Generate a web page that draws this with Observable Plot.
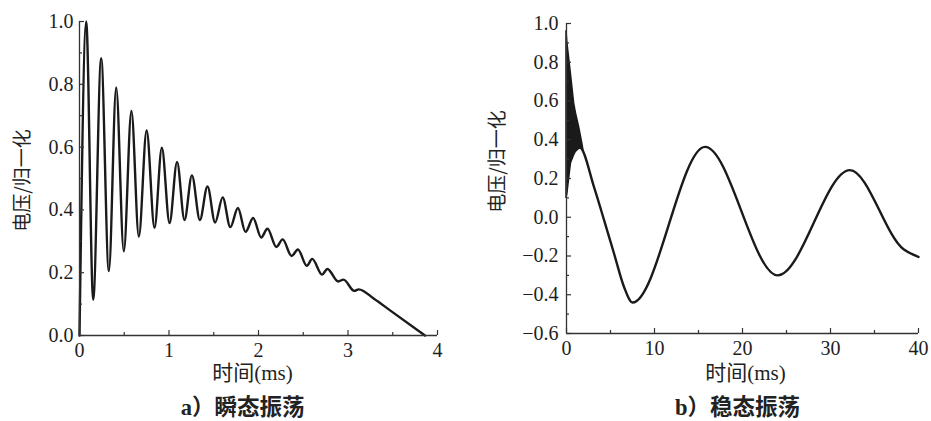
<!DOCTYPE html>
<html>
<head>
<meta charset="utf-8">
<script src="https://cdn.jsdelivr.net/npm/d3@7"></script>
<script src="https://cdn.jsdelivr.net/npm/@observablehq/plot@0.6"></script>
<style>
  body { margin: 0; background: #fff; }
  #wrap { position: relative; width: 931px; height: 421px; overflow: hidden; background: #fff; }
  #panelA, #panelB { position: absolute; top: 0; }
  #panelA { left: 0; }
  #panelB { left: 466px; }
</style>
</head>
<body>
<div id="wrap"><div id="panelA"></div><div id="panelB"></div></div>
<script>
// ---------- Panel a) transient oscillation (peaks & troughs read from the picture)
const leftTime = [0, 0.075, 0.153, 0.242, 0.328, 0.41, 0.495, 0.58, 0.663, 0.75,
  0.838, 0.92, 1.006, 1.09, 1.173, 1.256, 1.345, 1.43, 1.515, 1.6,
  1.685, 1.77, 1.855, 1.94, 2.03, 2.10, 2.20, 2.27, 2.37, 2.44,
  2.54, 2.60, 2.71, 2.77, 2.89, 2.95, 3.07, 3.12, 3.29, 3.47, 3.86];
const leftVoltage = [0, 1.0, 0.114, 0.883, 0.205, 0.79, 0.268, 0.715, 0.315, 0.653,
  0.343, 0.598, 0.358, 0.553, 0.368, 0.51, 0.368, 0.475, 0.36, 0.44,
  0.345, 0.406, 0.33, 0.374, 0.312, 0.34, 0.282, 0.306, 0.253, 0.274,
  0.222, 0.244, 0.194, 0.212, 0.172, 0.178, 0.142, 0.147, 0.117, 0.08, 0];
const leftXMajor = [0, 1, 2, 3, 4];
const leftXMinor = [0.5, 1.5, 2.5, 3.5];
const leftYMajor = [0, 0.2, 0.4, 0.6, 0.8, 1.0];
const leftYMinor = [0.1, 0.3, 0.5, 0.7, 0.9];

// ---------- Panel b) steady oscillation
// dense high-frequency band at the start (upper / lower envelope)
const bandTime  = [0, 0.1, 0.5, 0.87, 1.06, 1.43, 1.8, 1.95];
const bandUpper = [0.96, 0.90, 0.74, 0.587, 0.54, 0.466, 0.38, 0.34];
const bandLower = [0.10, 0.12, 0.277, 0.32, 0.337, 0.355, 0.36, 0.34];
// low-frequency oscillation
const rightTime    = [1.0, 1.5, 3.13, 4.27, 5.4, 6.54, 7.5, 15.75, 24.0, 32.2, 38.3, 40];
const rightVoltage = [0.345, 0.36, 0.156, -0.015, -0.187, -0.36, -0.44, 0.363, -0.30, 0.243, -0.165, -0.205];
const rightXMajor = [0, 10, 20, 30, 40];
const rightXMinor = [5, 15, 25, 35];
const rightYMajor = [-0.6, -0.4, -0.2, 0, 0.2, 0.4, 0.6, 0.8, 1.0];
const rightYMinor = [-0.5, -0.3, -0.1, 0.1, 0.3, 0.5, 0.7, 0.9];

const yLabel = "电压/归一化";
const xLabel = "时间(ms)";
const captionA = "a）瞬态振荡";
const captionB = "b）稳态振荡";

const SERIF = '"Liberation Serif", "Times New Roman", serif, "Noto Sans CJK SC"';
const CJK = '"Noto Sans CJK SC", sans-serif';
const INK = "#1a1a1a";

function panel(cfg) {
  const W = cfg.width - cfg.ml - cfg.mr;
  const H = cfg.height - cfg.mt - cfg.mb;
  const fmt = d3.format(".1f");
  return Plot.plot({
    width: cfg.width,
    height: cfg.height,
    marginLeft: cfg.ml, marginRight: cfg.mr, marginTop: cfg.mt, marginBottom: cfg.mb,
    style: { fontFamily: SERIF, fontSize: "20px", color: "#1e1e1e", background: "#fff", overflow: "visible" },
    x: { domain: cfg.xDomain, nice: false },
    y: { domain: cfg.yDomain, nice: false },
    marks: [
      ...(cfg.extra || []),
      Plot.line(cfg.data, { x: "t", y: "v", curve: "monotone-x", stroke: INK, strokeWidth: 2.4 }),
      // axis lines
      Plot.ruleX([cfg.xDomain[0]], { stroke: "#333", strokeWidth: 1.3 }),
      Plot.ruleY([cfg.yDomain[0]], { stroke: "#333", strokeWidth: 1.3 }),
      // inward ticks
      Plot.tickX(cfg.xMajor, { x: d => d, insetTop: H - 5, stroke: "#333", strokeWidth: 1.2 }),
      Plot.tickX(cfg.xMinor, { x: d => d, insetTop: H - 3, stroke: "#333", strokeWidth: 1.2 }),
      Plot.tickY(cfg.yMajor, { y: d => d, insetRight: W - 5, stroke: "#333", strokeWidth: 1.2 }),
      Plot.tickY(cfg.yMinor, { y: d => d, insetRight: W - 3, stroke: "#333", strokeWidth: 1.2 }),
      Plot.axisX(cfg.xMajor, { tickSize: 0, tickPadding: 7, label: null, fontSize: 20, fontFamily: SERIF }),
      Plot.axisY(cfg.yMajor, { tickSize: 0, tickPadding: cfg.yPad, tickFormat: fmt, label: null, fontSize: 20, fontFamily: SERIF }),
      Plot.text([yLabel], { text: d => d, frameAnchor: "left", rotate: -90, dx: cfg.yLabelDx, dy: cfg.yLabelDy,
        textAnchor: "middle", lineAnchor: "middle", fontFamily: CJK, fontSize: 19, fill: "#222" }),
      Plot.text([xLabel], { text: d => d, frameAnchor: "bottom", dx: cfg.xLabelDx, dy: cfg.xLabelDy,
        textAnchor: "middle", lineAnchor: "middle", fontFamily: SERIF, fontSize: 21, fill: "#222" }),
      Plot.text([cfg.caption], { text: d => d, frameAnchor: "bottom", dx: cfg.capDx, dy: cfg.capDy,
        textAnchor: "middle", lineAnchor: "middle", fontFamily: SERIF, fontSize: 22.5, fontWeight: "bold", fill: "#222" })
    ]
  });
}

const leftData = leftTime.map((t, i) => ({ t, v: leftVoltage[i] }));
const rightData = rightTime.map((t, i) => ({ t, v: rightVoltage[i] }));
const bandData = bandTime.map((t, i) => ({ t, hi: bandUpper[i], lo: bandLower[i] }));

document.getElementById("panelA").append(panel({
  width: 466, height: 421, ml: 79, mr: 29, mt: 21, mb: 86,
  xDomain: [0, 4], yDomain: [0, 1],
  xMajor: leftXMajor, xMinor: leftXMinor, yMajor: leftYMajor, yMinor: leftYMinor,
  yPad: 6, data: leftData,
  yLabelDx: -57, yLabelDy: 2,
  xLabelDx: -6, xLabelDy: 38,
  caption: captionA, capDx: -16, capDy: 72
}));

document.getElementById("panelB").append(panel({
  width: 465, height: 421, ml: 100, mr: 13, mt: 23, mb: 88,
  xDomain: [0, 40], yDomain: [-0.6, 1.0],
  xMajor: rightXMajor, xMinor: rightXMinor, yMajor: rightYMajor, yMinor: rightYMinor,
  yPad: 8, data: rightData,
  extra: [
    Plot.areaY(bandData, { x: "t", y1: "lo", y2: "hi", fill: INK, stroke: INK, strokeWidth: 1.5 })
  ],
  yLabelDx: -69, yLabelDy: -17,
  xLabelDx: 3, xLabelDy: 40,
  caption: captionB, capDx: -5, capDy: 74
}));
</script>
</body>
</html>
